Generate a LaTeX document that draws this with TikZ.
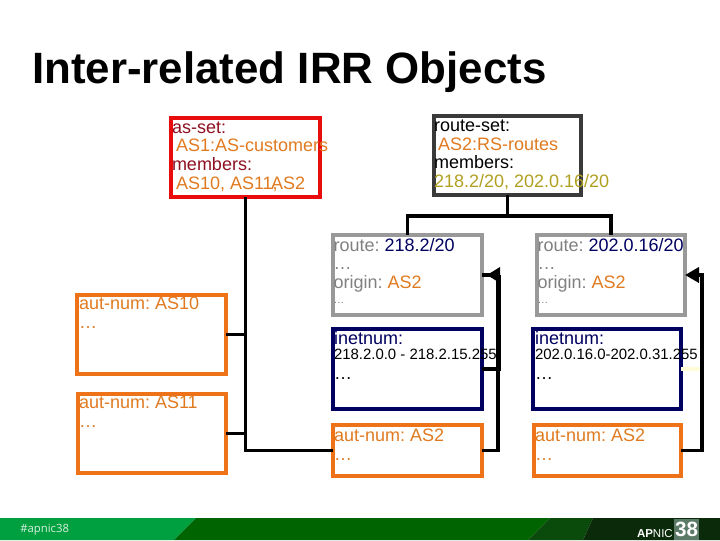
\documentclass[tikz,border=0pt]{standalone}
\usepackage{fontspec}
\setmainfont{Liberation Sans}
\newfontfamily\tagfont{Open Sans}
\usetikzlibrary{arrows.meta}
\frenchspacing
\definecolor{redbox}{HTML}{E80C0C}
\definecolor{darkbox}{HTML}{3A3A3A}
\definecolor{greybox}{HTML}{999999}
\definecolor{navybox}{HTML}{000060}
\definecolor{orangebox}{HTML}{EE7218}
\definecolor{maroon}{HTML}{8E1020}
\definecolor{amber}{HTML}{E07A20}
\definecolor{olive}{HTML}{B0A020}
\definecolor{greytext}{HTML}{808080}
\definecolor{bandlight}{HTML}{00A040}
\definecolor{banddark}{HTML}{006400}
\definecolor{bandmid}{HTML}{0A4A0A}
\definecolor{bandblack}{HTML}{0A2A0A}
\definecolor{faintline}{HTML}{FFFCD8}
\definecolor{numbox}{HTML}{5C7A68}
\definecolor{tagtext}{HTML}{D8F0E0}
\tikzset{
 box/.style={draw,line width=3pt,inner sep=0pt,outer sep=0pt,rectangle},
 txt/.style={anchor=north west,inner sep=0pt,outer sep=0pt,align=left,font=\fontsize{13.5}{14}\selectfont},
 link/.style={draw=black,line width=2.75pt},
 headlinkb/.style={link,-{Triangle[length=10.5pt,width=11.25pt]}}
}
\newcommand{\topl}{\rule{0pt}{10pt}}
\newcommand{\smalldots}{{\fontsize{8}{8}\selectfont …}}
\begin{document}
\begin{tikzpicture}[x=0.75pt,y=-0.75pt]
\useasboundingbox (0,0) rectangle (720,540);
% footer
\fill[bandlight] (0,518) -- (196,518) -- (174,540) -- (0,540) -- cycle;
\fill[banddark] (196,518) -- (550,518) -- (528,540) -- (174,540) -- cycle;
\fill[bandmid] (550,518) -- (593,518) -- (583,540) -- (528,540) -- cycle;
\fill[bandblack] (593,518) -- (720,518) -- (720,540) -- (583,540) -- cycle;
\node[anchor=west,inner sep=0pt,text=tagtext,font=\tagfont\fontsize{8.5}{9}\selectfont] (tag) at (20,529.5) {\#apnic38};
\node[anchor=base east,inner sep=0pt,text=white,font=\fontsize{8.6}{9}\selectfont] (apnic) at (673,537) {\textbf{AP}NIC};
\node[anchor=center,inner sep=0pt,fill=numbox,text=white,font=\bfseries\fontsize{15.5}{15.5}\selectfont,minimum width=18.75pt,minimum height=15.6pt] (num) at (686.5,529.5) {38};
% title
\node[anchor=base west,inner sep=0pt,font=\bfseries\fontsize{32.9}{33}\selectfont] (title) at (32,83) {Inter-related IRR Objects};
% boxes
\node[box,draw=redbox,minimum width=111.75pt,minimum height=59.25pt] (aset) at (245.5,157.5) {};
\node[box,draw=darkbox,minimum width=110.25pt,minimum height=59.25pt] (rset) at (507.5,155.5) {};
\node[box,draw=greybox,minimum width=111.75pt,minimum height=60pt] (ra) at (407.5,275) {};
\node[box,draw=greybox,minimum width=111pt,minimum height=60pt] (rb) at (611,275) {};
\node[box,draw=navybox,minimum width=111.75pt,minimum height=60pt] (ia) at (407.5,369) {};
\node[box,draw=navybox,minimum width=111pt,minimum height=60pt] (ib) at (607,369) {};
\node[box,draw=orangebox,minimum width=111.75pt,minimum height=38.25pt] (na) at (407.5,450.5) {};
\node[box,draw=orangebox,minimum width=110.25pt,minimum height=38.25pt] (nb) at (607.5,450.5) {};
\node[box,draw=orangebox,minimum width=111.75pt,minimum height=59.25pt] (nten) at (151.5,334.5) {};
\node[box,draw=orangebox,minimum width=111pt,minimum height=59.25pt] (nel) at (152,433.5) {};
% connectors
\coordinate (rsj) at (507.5,216);
\coordinate (busa) at (498.3,300);
\coordinate (busi) at (499.5,300);
\coordinate (busb) at (702,300);
\draw[draw=faintline,line width=3pt] (ib.east) -- (ib.east -| busb);
\draw[link] (aset.south) |- (na.west);
\draw[link] (nten.east) -- (nten.east -| aset.south);
\draw[link] (nel.east) -- (nel.east -| aset.south);
\draw[link] (rset.south) -- (rsj);
\draw[link] (rsj) -| (ra.north);
\draw[link] (rsj) -| (rb.north);
\draw[link] (na.east) -- (na.east -| busa) -- (busa |- ra.east) -- (ra.east);
\fill[black] (ra.east) ++(5,0) -- ++(13,-8) -- ++(0,16) -- cycle;
\draw[link] (ia.east) -- (ia.east -| busi) -- (busi |- ra.east);
\draw[headlinkb] (nb.east) -- (nb.east -| busb) -- (busb |- rb.east) -- (rb.east);
% texts
\node[txt] (tas) at (172,119.7) {\topl\textcolor{maroon}{as-set:}\\\textcolor{amber}{\hspace*{3pt}AS1:AS-customers}\\\textcolor{maroon}{members:}\\\textcolor{amber}{\hspace*{3pt}AS10, AS11,\kern-5pt AS2}};
\node[txt] (trs) at (434,118) {\topl route-set:\\\textcolor{amber}{\hspace*{3pt}AS2:RS-routes}\\members:\\\textcolor{olive}{218.2/20, 202.0.16/20}};
\node[txt] (tra) at (333.5,237.7) {\topl\textcolor{greytext}{route:} \textcolor{navybox}{218.2/20}\\\textcolor{greytext}{…}\\\textcolor{greytext}{origin:} \textcolor{amber}{AS2}\\[-3pt]\textcolor{greytext}{\smalldots}};
\node[txt] (trb) at (537.5,237.7) {\topl\textcolor{greytext}{route:} \textcolor{navybox}{202.0.16/20}\\\textcolor{greytext}{…}\\\textcolor{greytext}{origin:} \textcolor{amber}{AS2}\\[-3pt]\textcolor{greytext}{\smalldots}};
\node[txt] (tia) at (334,331) {\topl\textcolor{navybox}{inetnum:}\\[-2.5pt]{\fontsize{11.2}{14}\selectfont 218.2.0.0 - 218.2.15.255}\\[0.5pt]…};
\node[txt] (tib) at (535,331) {\topl\textcolor{navybox}{inetnum:}\\[-2.5pt]{\fontsize{11.2}{14}\selectfont 202.0.16.0-202.0.31.255}\\[0.5pt]…};
\node[txt,text=amber] (tna) at (334,427.7) {\topl aut-num: AS2\\[0.5pt]…};
\node[txt,text=amber] (tnb) at (535,427.7) {\topl aut-num: AS2\\[0.5pt]…};
\node[txt,text=amber] (tnt) at (79,296) {\topl aut-num: AS10\\[0.5pt]…};
\node[txt,text=amber] (tne) at (79,394.7) {\topl aut-num: AS11\\[0.5pt]…};
\end{tikzpicture}
\end{document}
